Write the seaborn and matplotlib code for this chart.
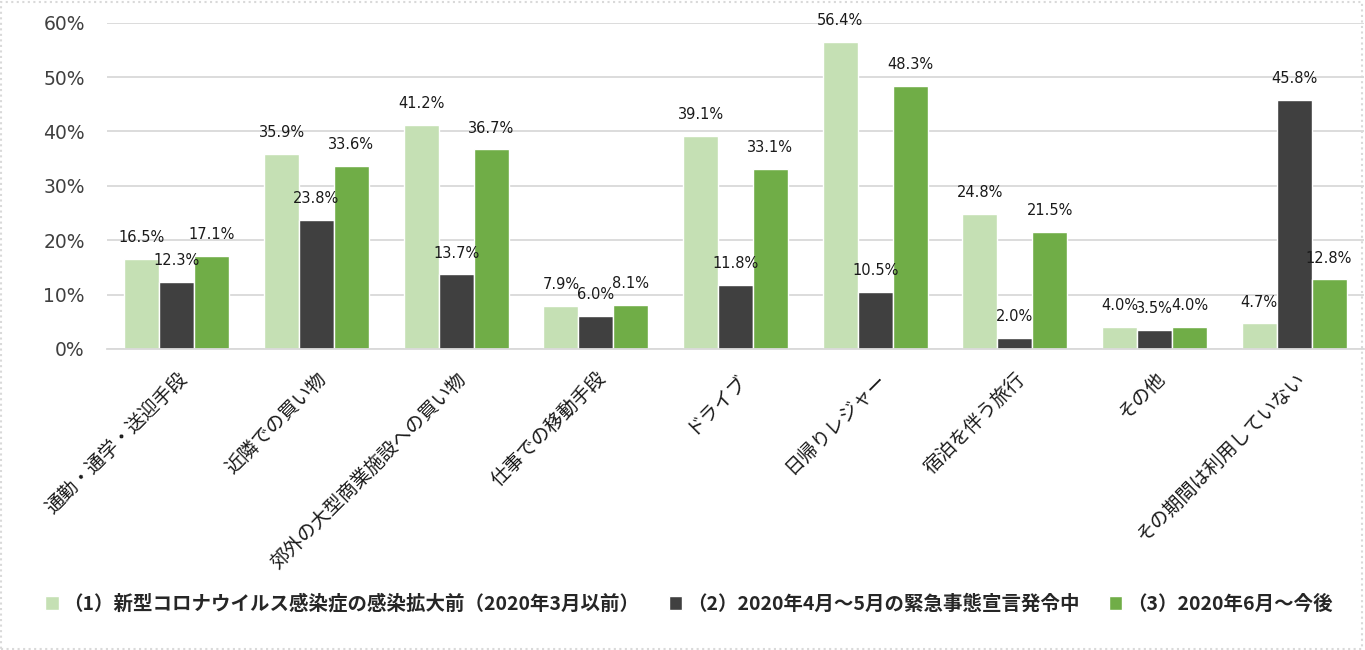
import matplotlib
matplotlib.use("Agg")
import matplotlib.pyplot as plt
import seaborn as sns
import pandas as pd
from matplotlib.patches import Rectangle
from matplotlib.ticker import PercentFormatter

categories = ['通勤・通学・送迎手段', '近隣での買い物', '郊外の大型商業施設への買い物',
              '仕事での移動手段', 'ドライブ', '日帰りレジャー', '宿泊を伴う旅行',
              'その他', 'その期間は利用していない']
series_names = ['（1）新型コロナウイルス感染症の感染拡大前（2020年3月以前）',
                '（2）2020年4月～5月の緊急事態宣言発令中',
                '（3）2020年6月～今後']
before = [16.5, 35.9, 41.2, 7.9, 39.1, 56.4, 24.8, 4.0, 4.7]
during = [12.3, 23.8, 13.7, 6.0, 11.8, 10.5, 2.0, 3.5, 45.8]
after = [17.1, 33.6, 36.7, 8.1, 33.1, 48.3, 21.5, 4.0, 12.8]
colors = ['#C5E0B4', '#404040', '#70AD47']

rows = []
for name, vals in zip(series_names, [before, during, after]):
    for c, v in zip(categories, vals):
        rows.append({'cat': c, 'series': name, 'value': v / 100.0})
df = pd.DataFrame(rows)

sns.set_theme(style='white')
plt.rcParams['font.family'] = ['Noto Sans CJK JP', 'DejaVu Sans']

fig = plt.figure(figsize=(13.65, 6.5), dpi=100)
W, H = 1365, 650
ax = fig.add_axes([107 / W, (H - 349) / H, (1364 - 107) / W, (349 - 22.7) / H])

sns.barplot(data=df, x='cat', y='value', hue='series', palette=colors,
            width=0.75, saturation=1, ax=ax, order=categories,
            hue_order=series_names, legend=True)

ax.set_ylim(0, 0.6)
ax.set_yticks([0, 0.1, 0.2, 0.3, 0.4, 0.5, 0.6])
ax.yaxis.set_major_formatter(PercentFormatter(1.0, decimals=0))
ax.set_xlim(-0.5, 8.5)
ax.grid(axis='y', color='#D9D9D9', linewidth=1.3)
ax.set_axisbelow(True)
for s in ['top', 'right', 'left']:
    ax.spines[s].set_visible(False)
ax.spines['bottom'].set_color('#D9D9D9')
ax.spines['bottom'].set_linewidth(1.3)
ax.set_xlabel('')
ax.set_ylabel('')
ax.tick_params(axis='y', length=0, pad=16, labelsize=13.5, labelcolor='#404040')
for t in ax.get_yticklabels():
    t.set_family('DejaVu Sans')
ax.tick_params(axis='x', length=0, pad=14)
ax.set_xticks(range(len(categories)))
ax.set_xticklabels(categories, rotation=45, ha='right', rotation_mode='anchor',
                   fontsize=13.8, color='#1a1a1a')

for cont, vals in zip(ax.containers, [before, during, after]):
    ax.bar_label(cont, labels=[f'{v:.1f}%' for v in vals], padding=10,
                 fontsize=10.5, color='#1a1a1a', family='DejaVu Sans')

handles, labels = ax.get_legend_handles_labels()
ax.get_legend().remove()
leg = fig.legend(handles, labels, loc='center', bbox_to_anchor=(689 / W, (H - 604) / H),
                 ncol=3, frameon=False, handlelength=0.7, handleheight=0.7,
                 handletextpad=0.25, columnspacing=1.5,
                 prop={'size': 14, 'weight': 'bold', 'family': ['Noto Sans CJK JP', 'DejaVu Sans']})

fig.patches.append(Rectangle((1 / W, 1 / H), (1362 - 1) / W, (648 - 1) / H,
                             transform=fig.transFigure, fill=False,
                             edgecolor='#D9D9D9', linewidth=1.5, linestyle=':'))

fig.savefig('out.png', dpi=100, facecolor='white')
